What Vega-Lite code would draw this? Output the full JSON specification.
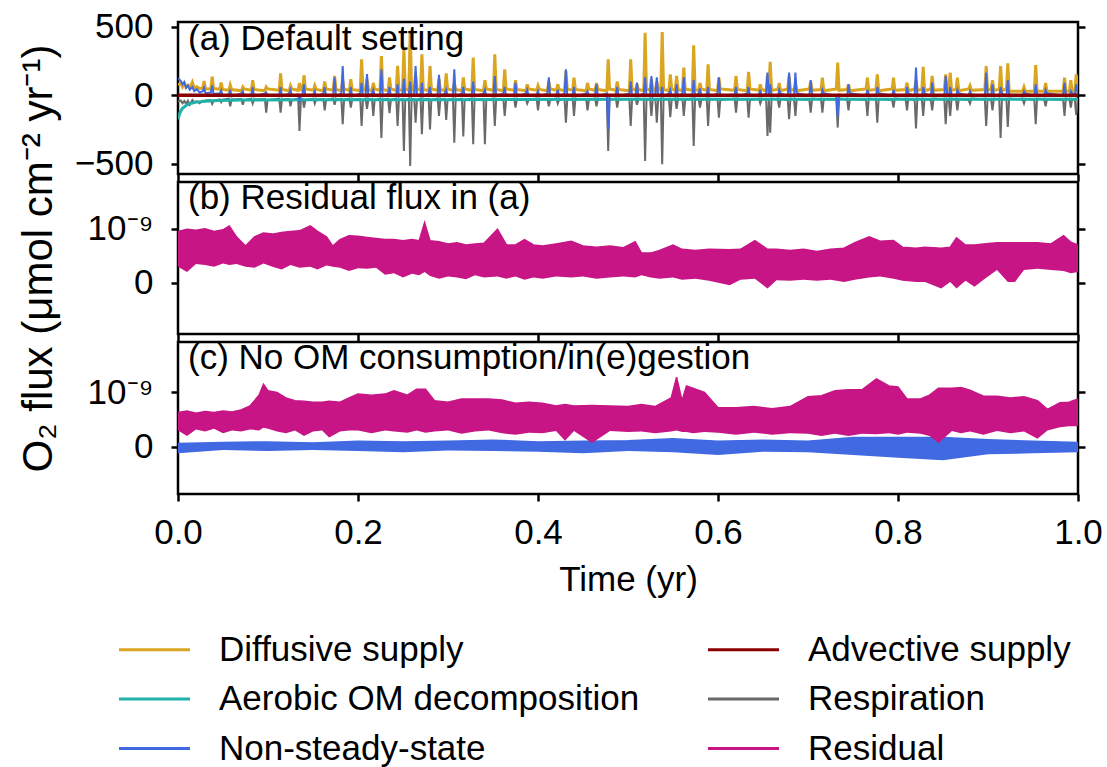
{
"$schema": "https://vega.github.io/schema/vega-lite/v6.json",
"padding": {"left": 15, "top": 8, "right": 0, "bottom": 0},
"background": "white",
"spacing": 8,
"bounds": "flush",
"datasets": {
"A": [
{"t":0,"d":75,"r":-45,"n":125},{"t":0.003,"d":88,"r":-38,"n":105},{"t":0.005,"d":62,"r":-58,"n":80},{"t":0.007,"d":90,"r":-42,"n":95},{"t":0.009,"d":58,"r":-62,"n":55},{"t":0.011,"d":72,"r":-40,"n":70},{"t":0.013,"d":55,"r":-70,"n":40},{"t":0.016,"d":96,"r":-35,"n":60},{"t":0.018,"d":52,"r":-50,"n":30},{"t":0.021,"d":62,"r":-45,"n":45},{"t":0.024,"d":50,"r":-58,"n":20},{"t":0.0275,"d":52,"r":-40,"n":30},{"t":0.029,"d":104,"r":-45,"n":55},{"t":0.0305,"d":48,"r":-38,"n":15},{"t":0.0365,"d":46,"r":-35,"n":20},{"t":0.038,"d":136,"r":-62,"n":72},{"t":0.0395,"d":50,"r":-40,"n":10},{"t":0.0465,"d":44,"r":-30,"n":15},{"t":0.048,"d":92,"r":-50,"n":35},{"t":0.0495,"d":42,"r":-32,"n":-5},
{"t":0.0565,"d":36,"r":-24,"n":6},{"t":0.058,"d":75,"r":-80,"n":40},{"t":0.0595,"d":42,"r":-31,"n":-8},
{"t":0.0705,"d":33,"r":-27,"n":14},{"t":0.072,"d":60,"r":-70,"n":30},{"t":0.0735,"d":46,"r":-35,"n":-4},
{"t":0.0815,"d":36,"r":-24,"n":6},{"t":0.083,"d":110,"r":-60,"n":60},{"t":0.0845,"d":42,"r":-31,"n":-8},
{"t":0.0965,"d":33,"r":-27,"n":14},{"t":0.098,"d":60,"r":-127,"n":20},{"t":0.0995,"d":46,"r":-35,"n":-4},
{"t":0.1125,"d":36,"r":-24,"n":6},{"t":0.114,"d":160,"r":-127,"n":60},{"t":0.1155,"d":42,"r":-31,"n":-8},
{"t":0.1235,"d":33,"r":-27,"n":14},{"t":0.125,"d":70,"r":-80,"n":40},{"t":0.1265,"d":46,"r":-35,"n":-4},
{"t":0.1335,"d":36,"r":-24,"n":6},{"t":0.135,"d":90,"r":-260,"n":-40},{"t":0.1365,"d":42,"r":-31,"n":-8},
{"t":0.1385,"d":33,"r":-27,"n":14},{"t":0.14,"d":146,"r":-90,"n":80},{"t":0.1415,"d":46,"r":-35,"n":-4},
{"t":0.1505,"d":36,"r":-24,"n":6},{"t":0.152,"d":70,"r":-60,"n":30},{"t":0.1535,"d":42,"r":-31,"n":-8},
{"t":0.1615,"d":33,"r":-27,"n":14},{"t":0.163,"d":100,"r":-110,"n":60},{"t":0.1645,"d":46,"r":-35,"n":-4},
{"t":0.1725,"d":36,"r":-24,"n":6},{"t":0.174,"d":141,"r":-70,"n":131},{"t":0.1755,"d":42,"r":-31,"n":-8},
{"t":0.1815,"d":33,"r":-27,"n":14},{"t":0.183,"d":110,"r":-212,"n":214},{"t":0.1845,"d":46,"r":-35,"n":-4},
{"t":0.1905,"d":36,"r":-24,"n":6},{"t":0.192,"d":117,"r":-90,"n":60},{"t":0.1935,"d":42,"r":-31,"n":-8},
{"t":0.2025,"d":33,"r":-27,"n":14},{"t":0.204,"d":262,"r":-224,"n":90},{"t":0.2055,"d":46,"r":-35,"n":-4},
{"t":0.2085,"d":36,"r":-24,"n":6},{"t":0.21,"d":120,"r":-100,"n":155},{"t":0.2115,"d":42,"r":-31,"n":-8},
{"t":0.2155,"d":33,"r":-27,"n":14},{"t":0.217,"d":90,"r":-150,"n":40},{"t":0.2185,"d":46,"r":-35,"n":-4},
{"t":0.2245,"d":36,"r":-24,"n":6},{"t":0.226,"d":287,"r":-311,"n":190},{"t":0.2275,"d":42,"r":-31,"n":-8},
{"t":0.2335,"d":33,"r":-27,"n":14},{"t":0.235,"d":130,"r":-130,"n":60},{"t":0.2365,"d":46,"r":-35,"n":-4},
{"t":0.2425,"d":36,"r":-24,"n":6},{"t":0.244,"d":214,"r":-224,"n":80},{"t":0.2455,"d":42,"r":-31,"n":-8},
{"t":0.2495,"d":33,"r":-27,"n":14},{"t":0.251,"d":336,"r":-406,"n":120},{"t":0.2525,"d":46,"r":-35,"n":-4},
{"t":0.2565,"d":36,"r":-24,"n":6},{"t":0.258,"d":470,"r":-516,"n":100},{"t":0.2595,"d":42,"r":-31,"n":-8},
{"t":0.2625,"d":33,"r":-27,"n":14},{"t":0.264,"d":150,"r":-200,"n":214},{"t":0.2655,"d":46,"r":-35,"n":-4},
{"t":0.2695,"d":36,"r":-24,"n":6},{"t":0.271,"d":299,"r":-285,"n":90},{"t":0.2725,"d":42,"r":-31,"n":-8},
{"t":0.2785,"d":33,"r":-27,"n":14},{"t":0.28,"d":214,"r":-250,"n":60},{"t":0.2815,"d":46,"r":-35,"n":-4},
{"t":0.2885,"d":36,"r":-24,"n":6},{"t":0.29,"d":120,"r":-150,"n":150},{"t":0.2915,"d":42,"r":-31,"n":-8},
{"t":0.2965,"d":33,"r":-27,"n":14},{"t":0.298,"d":160,"r":-180,"n":40},{"t":0.2995,"d":46,"r":-35,"n":-4},
{"t":0.3055,"d":36,"r":-24,"n":6},{"t":0.307,"d":90,"r":-346,"n":190},{"t":0.3085,"d":42,"r":-31,"n":-8},
{"t":0.3155,"d":33,"r":-27,"n":14},{"t":0.317,"d":130,"r":-300,"n":60},{"t":0.3185,"d":46,"r":-35,"n":-4},
{"t":0.3265,"d":36,"r":-24,"n":6},{"t":0.328,"d":275,"r":-358,"n":100},{"t":0.3295,"d":42,"r":-31,"n":-8},
{"t":0.3395,"d":33,"r":-27,"n":14},{"t":0.341,"d":110,"r":-358,"n":40},{"t":0.3425,"d":46,"r":-35,"n":-4},
{"t":0.3505,"d":36,"r":-24,"n":6},{"t":0.352,"d":299,"r":-224,"n":141},{"t":0.3535,"d":42,"r":-31,"n":-8},
{"t":0.3615,"d":33,"r":-27,"n":14},{"t":0.363,"d":190,"r":-150,"n":60},{"t":0.3645,"d":46,"r":-35,"n":-4},
{"t":0.3735,"d":36,"r":-24,"n":6},{"t":0.375,"d":110,"r":-90,"n":92},{"t":0.3765,"d":42,"r":-31,"n":-8},
{"t":0.3865,"d":33,"r":-27,"n":14},{"t":0.388,"d":80,"r":-60,"n":40},{"t":0.3895,"d":46,"r":-35,"n":-4},
{"t":0.3985,"d":36,"r":-24,"n":6},{"t":0.4,"d":70,"r":-110,"n":30},{"t":0.4015,"d":42,"r":-31,"n":-8},
{"t":0.4105,"d":33,"r":-27,"n":14},{"t":0.412,"d":100,"r":-80,"n":131},{"t":0.4135,"d":46,"r":-35,"n":-4},
{"t":0.4205,"d":36,"r":-24,"n":6},{"t":0.422,"d":80,"r":-60,"n":40},{"t":0.4235,"d":42,"r":-31,"n":-8},
{"t":0.4295,"d":33,"r":-27,"n":14},{"t":0.431,"d":177,"r":-200,"n":190},{"t":0.4325,"d":46,"r":-35,"n":-4},
{"t":0.4385,"d":36,"r":-24,"n":6},{"t":0.44,"d":129,"r":-150,"n":60},{"t":0.4415,"d":42,"r":-31,"n":-8},
{"t":0.4535,"d":33,"r":-27,"n":14},{"t":0.455,"d":90,"r":-110,"n":30},{"t":0.4565,"d":46,"r":-35,"n":-4},
{"t":0.4635,"d":36,"r":-24,"n":6},{"t":0.465,"d":90,"r":-80,"n":80},{"t":0.4665,"d":42,"r":-31,"n":-8},
{"t":0.4765,"d":33,"r":-27,"n":14},{"t":0.478,"d":263,"r":-406,"n":-248},{"t":0.4795,"d":46,"r":-35,"n":-4},
{"t":0.4865,"d":36,"r":-24,"n":6},{"t":0.488,"d":100,"r":-90,"n":60},{"t":0.4895,"d":42,"r":-31,"n":-8},
{"t":0.5015,"d":33,"r":-27,"n":14},{"t":0.503,"d":263,"r":-224,"n":100},{"t":0.5045,"d":46,"r":-35,"n":-4},
{"t":0.5085,"d":36,"r":-24,"n":6},{"t":0.51,"d":80,"r":-70,"n":92},{"t":0.5115,"d":42,"r":-31,"n":-8},
{"t":0.5175,"d":33,"r":-27,"n":14},{"t":0.519,"d":457,"r":-479,"n":131},{"t":0.5205,"d":46,"r":-35,"n":-4},
{"t":0.5245,"d":36,"r":-24,"n":6},{"t":0.526,"d":120,"r":-150,"n":141},{"t":0.5275,"d":42,"r":-31,"n":-8},
{"t":0.5305,"d":33,"r":-27,"n":14},{"t":0.532,"d":100,"r":-200,"n":131},{"t":0.5335,"d":46,"r":-35,"n":-4},
{"t":0.5365,"d":36,"r":-24,"n":6},{"t":0.538,"d":462,"r":-504,"n":60},{"t":0.5395,"d":42,"r":-31,"n":-8},
{"t":0.5455,"d":33,"r":-27,"n":14},{"t":0.547,"d":153,"r":-160,"n":40},{"t":0.5485,"d":46,"r":-35,"n":-4},
{"t":0.5525,"d":36,"r":-24,"n":6},{"t":0.554,"d":141,"r":-100,"n":80},{"t":0.5555,"d":42,"r":-31,"n":-8},
{"t":0.5605,"d":33,"r":-27,"n":14},{"t":0.562,"d":202,"r":-150,"n":131},{"t":0.5635,"d":46,"r":-35,"n":-4},
{"t":0.5715,"d":36,"r":-24,"n":6},{"t":0.573,"d":365,"r":-370,"n":110},{"t":0.5745,"d":42,"r":-31,"n":-8},
{"t":0.5785,"d":33,"r":-27,"n":14},{"t":0.58,"d":90,"r":-90,"n":50},{"t":0.5815,"d":46,"r":-35,"n":-4},
{"t":0.5875,"d":36,"r":-24,"n":6},{"t":0.589,"d":226,"r":-224,"n":60},{"t":0.5905,"d":42,"r":-31,"n":-8},
{"t":0.5995,"d":33,"r":-27,"n":14},{"t":0.601,"d":129,"r":-163,"n":131},{"t":0.6025,"d":46,"r":-35,"n":-4},
{"t":0.6185,"d":36,"r":-24,"n":6},{"t":0.62,"d":141,"r":-127,"n":60},{"t":0.6215,"d":42,"r":-31,"n":-8},
{"t":0.6325,"d":33,"r":-27,"n":14},{"t":0.634,"d":170,"r":-163,"n":60},{"t":0.6355,"d":46,"r":-35,"n":-4},
{"t":0.6455,"d":36,"r":-24,"n":6},{"t":0.647,"d":80,"r":-60,"n":40},{"t":0.6485,"d":42,"r":-31,"n":-8},
{"t":0.6535,"d":33,"r":-27,"n":14},{"t":0.655,"d":153,"r":-297,"n":165},{"t":0.6565,"d":46,"r":-35,"n":-4},
{"t":0.658,"d":245,"r":-273,"n":80},{"t":0.6595,"d":36,"r":-24,"n":6},
{"t":0.6665,"d":42,"r":-31,"n":-8},{"t":0.668,"d":90,"r":-90,"n":40},{"t":0.6695,"d":33,"r":-27,"n":14},
{"t":0.6775,"d":46,"r":-35,"n":-4},{"t":0.679,"d":141,"r":-175,"n":165},{"t":0.6805,"d":36,"r":-24,"n":6},
{"t":0.6845,"d":42,"r":-31,"n":-8},{"t":0.686,"d":80,"r":-150,"n":165},{"t":0.6875,"d":33,"r":-27,"n":14},
{"t":0.7015,"d":46,"r":-35,"n":-4},{"t":0.703,"d":100,"r":-127,"n":110},{"t":0.7045,"d":36,"r":-24,"n":6},
{"t":0.7145,"d":42,"r":-31,"n":-8},{"t":0.716,"d":129,"r":-127,"n":40},{"t":0.7175,"d":33,"r":-27,"n":14},
{"t":0.7315,"d":46,"r":-35,"n":-4},{"t":0.733,"d":238,"r":-236,"n":-151},{"t":0.7345,"d":36,"r":-24,"n":6},
{"t":0.7435,"d":42,"r":-31,"n":-8},{"t":0.745,"d":80,"r":-110,"n":80},{"t":0.7465,"d":33,"r":-27,"n":14},
{"t":0.7645,"d":46,"r":-35,"n":-4},{"t":0.766,"d":129,"r":-150,"n":40},{"t":0.7675,"d":36,"r":-24,"n":6},
{"t":0.7755,"d":42,"r":-31,"n":-8},{"t":0.777,"d":153,"r":-200,"n":60},{"t":0.7785,"d":33,"r":-27,"n":14},
{"t":0.7935,"d":46,"r":-35,"n":-4},{"t":0.795,"d":129,"r":-90,"n":40},{"t":0.7965,"d":36,"r":-24,"n":6},
{"t":0.8085,"d":42,"r":-31,"n":-8},{"t":0.81,"d":92,"r":-110,"n":60},{"t":0.8115,"d":33,"r":-27,"n":14},
{"t":0.8185,"d":46,"r":-35,"n":-4},{"t":0.82,"d":110,"r":-243,"n":202},{"t":0.8215,"d":36,"r":-24,"n":6},
{"t":0.8265,"d":42,"r":-31,"n":-8},{"t":0.828,"d":207,"r":-150,"n":60},{"t":0.8295,"d":33,"r":-27,"n":14},
{"t":0.8365,"d":46,"r":-35,"n":-4},{"t":0.838,"d":141,"r":-110,"n":92},{"t":0.8395,"d":36,"r":-24,"n":6},
{"t":0.8515,"d":42,"r":-31,"n":-8},{"t":0.853,"d":153,"r":-212,"n":141},{"t":0.8545,"d":33,"r":-27,"n":14},
{"t":0.8565,"d":46,"r":-35,"n":-4},{"t":0.858,"d":165,"r":-150,"n":60},{"t":0.8595,"d":36,"r":-24,"n":6},
{"t":0.8645,"d":42,"r":-31,"n":-8},{"t":0.866,"d":129,"r":-110,"n":40},{"t":0.8675,"d":33,"r":-27,"n":14},
{"t":0.8785,"d":46,"r":-35,"n":-4},{"t":0.88,"d":70,"r":-60,"n":30},{"t":0.8815,"d":36,"r":-24,"n":6},
{"t":0.8965,"d":42,"r":-31,"n":-8},{"t":0.898,"d":214,"r":-224,"n":165},{"t":0.8995,"d":33,"r":-27,"n":14},
{"t":0.9035,"d":46,"r":-35,"n":-4},{"t":0.905,"d":110,"r":-110,"n":80},{"t":0.9065,"d":36,"r":-24,"n":6},
{"t":0.9125,"d":42,"r":-31,"n":-8},{"t":0.914,"d":214,"r":-311,"n":60},{"t":0.9155,"d":33,"r":-27,"n":14},
{"t":0.9205,"d":46,"r":-35,"n":-4},{"t":0.922,"d":233,"r":-231,"n":110},{"t":0.9235,"d":30,"r":-24,"n":6},
{"t":0.9385,"d":30,"r":-31,"n":-8},{"t":0.94,"d":60,"r":-60,"n":30},{"t":0.9415,"d":30,"r":-27,"n":14},
{"t":0.9515,"d":30,"r":-35,"n":-4},{"t":0.953,"d":221,"r":-212,"n":80},{"t":0.9545,"d":30,"r":-24,"n":6},
{"t":0.9625,"d":30,"r":-31,"n":-8},{"t":0.964,"d":90,"r":-80,"n":40},{"t":0.9655,"d":30,"r":-27,"n":14},
{"t":0.9835,"d":30,"r":-35,"n":-4},{"t":0.985,"d":129,"r":-150,"n":92},{"t":0.9865,"d":30,"r":-24,"n":6},
{"t":0.9905,"d":30,"r":-31,"n":-8},{"t":0.992,"d":110,"r":-90,"n":30},{"t":0.9935,"d":30,"r":-27,"n":14},
{"t":0.9965,"d":30,"r":-35,"n":-4},{"t":0.998,"d":153,"r":-143,"n":80},{"t":1,"d":40,"r":-30,"n":10}
],
"O": [
{"t":0,"o":-175,"v":0},{"t":0.002,"o":-130,"v":0},{"t":0.005,"o":-95,"v":0},{"t":0.01,"o":-70,"v":0},{"t":0.015,"o":-58,"v":0},{"t":0.02,"o":-50,"v":0},{"t":0.03,"o":-43,"v":0},{"t":0.045,"o":-38,"v":0},{"t":0.07,"o":-35,"v":0},{"t":0.15,"o":-33,"v":0},{"t":0.3,"o":-32,"v":0},{"t":0.5,"o":-30,"v":0},{"t":0.7,"o":-30,"v":0},{"t":1,"o":-29,"v":0}
],
"B": [
{"t":0,"h":0.95e-9,"l":0.30e-9},{"t":0.01,"h":0.99e-9,"l":0.20e-9},{"t":0.02,"h":0.97e-9,"l":0.35e-9},{"t":0.03,"h":1.0e-9,"l":0.33e-9},{"t":0.04,"h":0.95e-9,"l":0.30e-9},{"t":0.05,"h":0.98e-9,"l":0.36e-9},{"t":0.057,"h":1.05e-9,"l":0.33e-9},{"t":0.065,"h":0.85e-9,"l":0.35e-9},{"t":0.075,"h":0.68e-9,"l":0.30e-9},{"t":0.085,"h":0.85e-9,"l":0.28e-9},{"t":0.095,"h":0.92e-9,"l":0.36e-9},{"t":0.105,"h":0.90e-9,"l":0.30e-9},{"t":0.115,"h":0.93e-9,"l":0.25e-9},{"t":0.125,"h":0.95e-9,"l":0.33e-9},{"t":0.135,"h":0.96e-9,"l":0.28e-9},{"t":0.147,"h":1.05e-9,"l":0.30e-9},{"t":0.155,"h":0.95e-9,"l":0.25e-9},{"t":0.165,"h":0.85e-9,"l":0.32e-9},{"t":0.172,"h":0.68e-9,"l":0.30e-9},{"t":0.18,"h":0.80e-9,"l":0.28e-9},{"t":0.19,"h":0.87e-9,"l":0.22e-9},{"t":0.2,"h":0.86e-9,"l":0.27e-9},{"t":0.21,"h":0.84e-9,"l":0.26e-9},{"t":0.22,"h":0.82e-9,"l":0.28e-9},{"t":0.23,"h":0.80e-9,"l":0.15e-9},{"t":0.24,"h":0.80e-9,"l":0.18e-9},{"t":0.25,"h":0.78e-9,"l":0.10e-9},{"t":0.26,"h":0.80e-9,"l":0.17e-9},{"t":0.268,"h":0.78e-9,"l":0.14e-9},{"t":0.274,"h":1.11e-9,"l":0.20e-9},{"t":0.28,"h":0.78e-9,"l":0.13e-9},{"t":0.29,"h":0.76e-9,"l":0.08e-9},{"t":0.3,"h":0.72e-9,"l":0.12e-9},{"t":0.31,"h":0.74e-9,"l":0.10e-9},{"t":0.32,"h":0.70e-9,"l":0.07e-9},{"t":0.33,"h":0.72e-9,"l":0.14e-9},{"t":0.34,"h":0.73e-9,"l":0.10e-9},{"t":0.355,"h":0.99e-9,"l":0.12e-9},{"t":0.365,"h":0.70e-9,"l":0.08e-9},{"t":0.375,"h":0.70e-9,"l":0.12e-9},{"t":0.385,"h":0.80e-9,"l":0.06e-9},{"t":0.395,"h":0.70e-9,"l":0.10e-9},{"t":0.405,"h":0.68e-9,"l":0.08e-9},{"t":0.42,"h":0.72e-9,"l":0.12e-9},{"t":0.437,"h":0.77e-9,"l":0.10e-9},{"t":0.45,"h":0.68e-9,"l":0.12e-9},{"t":0.465,"h":0.66e-9,"l":0.08e-9},{"t":0.48,"h":0.68e-9,"l":0.10e-9},{"t":0.495,"h":0.65e-9,"l":0.12e-9},{"t":0.508,"h":0.76e-9,"l":0.10e-9},{"t":0.515,"h":0.55e-9,"l":0.14e-9},{"t":0.525,"h":0.55e-9,"l":0.10e-9},{"t":0.535,"h":0.60e-9,"l":0.08e-9},{"t":0.55,"h":0.70e-9,"l":0.10e-9},{"t":0.56,"h":0.62e-9,"l":0.06e-9},{"t":0.575,"h":0.60e-9,"l":0.08e-9},{"t":0.59,"h":0.62e-9,"l":0.04e-9},{"t":0.613,"h":0.61e-9,"l":-0.04e-9},{"t":0.625,"h":0.62e-9,"l":0.06e-9},{"t":0.641,"h":0.78e-9,"l":0.08e-9},{"t":0.655,"h":0.62e-9,"l":-0.10e-9},{"t":0.665,"h":0.62e-9,"l":0.05e-9},{"t":0.68,"h":0.60e-9,"l":0.04e-9},{"t":0.695,"h":0.62e-9,"l":0.06e-9},{"t":0.71,"h":0.58e-9,"l":0.04e-9},{"t":0.725,"h":0.62e-9,"l":0.06e-9},{"t":0.74,"h":0.64e-9,"l":0.02e-9},{"t":0.752,"h":0.74e-9,"l":0.06e-9},{"t":0.768,"h":0.85e-9,"l":0.10e-9},{"t":0.78,"h":0.77e-9,"l":0.12e-9},{"t":0.795,"h":0.78e-9,"l":0.08e-9},{"t":0.805,"h":0.66e-9,"l":0.04e-9},{"t":0.82,"h":0.64e-9,"l":0.02e-9},{"t":0.83,"h":0.66e-9,"l":0.02e-9},{"t":0.848,"h":0.64e-9,"l":-0.10e-9},{"t":0.858,"h":0.66e-9,"l":0.02e-9},{"t":0.865,"h":0.83e-9,"l":-0.10e-9},{"t":0.875,"h":0.70e-9,"l":0.04e-9},{"t":0.885,"h":0.70e-9,"l":-0.07e-9},{"t":0.895,"h":0.72e-9,"l":0.06e-9},{"t":0.91,"h":0.74e-9,"l":0.24e-9},{"t":0.922,"h":0.74e-9,"l":0.02e-9},{"t":0.93,"h":0.74e-9,"l":0.02e-9},{"t":0.94,"h":0.74e-9,"l":0.24e-9},{"t":0.955,"h":0.74e-9,"l":0.26e-9},{"t":0.97,"h":0.72e-9,"l":0.24e-9},{"t":0.984,"h":0.87e-9,"l":0.22e-9},{"t":0.992,"h":0.75e-9,"l":0.18e-9},{"t":1,"h":0.70e-9,"l":0.20e-9}
],
"C": [
{"t":0,"h":0.63e-9,"l":0.30e-9},{"t":0.01,"h":0.66e-9,"l":0.20e-9},{"t":0.02,"h":0.62e-9,"l":0.32e-9},{"t":0.03,"h":0.65e-9,"l":0.28e-9},{"t":0.04,"h":0.63e-9,"l":0.33e-9},{"t":0.05,"h":0.66e-9,"l":0.25e-9},{"t":0.06,"h":0.64e-9,"l":0.30e-9},{"t":0.07,"h":0.68e-9,"l":0.28e-9},{"t":0.08,"h":0.75e-9,"l":0.32e-9},{"t":0.09,"h":0.95e-9,"l":0.30e-9},{"t":0.095,"h":1.15e-9,"l":0.35e-9},{"t":0.1,"h":1.03e-9,"l":0.33e-9},{"t":0.11,"h":1.0e-9,"l":0.28e-9},{"t":0.12,"h":0.90e-9,"l":0.25e-9},{"t":0.13,"h":0.85e-9,"l":0.30e-9},{"t":0.14,"h":0.84e-9,"l":0.20e-9},{"t":0.15,"h":0.82e-9,"l":0.28e-9},{"t":0.16,"h":0.82e-9,"l":0.30e-9},{"t":0.168,"h":0.84e-9,"l":0.17e-9},{"t":0.18,"h":0.82e-9,"l":0.28e-9},{"t":0.19,"h":0.90e-9,"l":0.30e-9},{"t":0.2,"h":0.97e-9,"l":0.30e-9},{"t":0.215,"h":0.95e-9,"l":0.25e-9},{"t":0.23,"h":0.97e-9,"l":0.30e-9},{"t":0.24,"h":1.03e-9,"l":0.28e-9},{"t":0.255,"h":0.95e-9,"l":0.26e-9},{"t":0.265,"h":1.06e-9,"l":0.30e-9},{"t":0.275,"h":1.06e-9,"l":0.26e-9},{"t":0.285,"h":0.85e-9,"l":0.28e-9},{"t":0.3,"h":0.82e-9,"l":0.30e-9},{"t":0.315,"h":0.88e-9,"l":0.24e-9},{"t":0.33,"h":0.88e-9,"l":0.28e-9},{"t":0.345,"h":0.88e-9,"l":0.30e-9},{"t":0.36,"h":0.86e-9,"l":0.25e-9},{"t":0.375,"h":0.80e-9,"l":0.22e-9},{"t":0.39,"h":0.82e-9,"l":0.26e-9},{"t":0.405,"h":0.80e-9,"l":0.25e-9},{"t":0.42,"h":0.75e-9,"l":0.29e-9},{"t":0.43,"h":0.78e-9,"l":0.11e-9},{"t":0.44,"h":0.75e-9,"l":0.29e-9},{"t":0.46,"h":0.76e-9,"l":0.07e-9},{"t":0.48,"h":0.75e-9,"l":0.29e-9},{"t":0.5,"h":0.74e-9,"l":0.27e-9},{"t":0.515,"h":0.78e-9,"l":0.28e-9},{"t":0.53,"h":0.74e-9,"l":0.25e-9},{"t":0.548,"h":0.90e-9,"l":0.28e-9},{"t":0.554,"h":1.28e-9,"l":0.30e-9},{"t":0.56,"h":0.85e-9,"l":0.27e-9},{"t":0.565,"h":1.12e-9,"l":0.27e-9},{"t":0.572,"h":1.08e-9,"l":0.25e-9},{"t":0.585,"h":1.0e-9,"l":0.27e-9},{"t":0.6,"h":0.72e-9,"l":0.26e-9},{"t":0.62,"h":0.72e-9,"l":0.22e-9},{"t":0.64,"h":0.74e-9,"l":0.26e-9},{"t":0.66,"h":0.70e-9,"l":0.22e-9},{"t":0.68,"h":0.74e-9,"l":0.25e-9},{"t":0.7,"h":0.92e-9,"l":0.24e-9},{"t":0.715,"h":0.94e-9,"l":0.20e-9},{"t":0.73,"h":1.03e-9,"l":0.24e-9},{"t":0.745,"h":1.05e-9,"l":0.20e-9},{"t":0.76,"h":1.05e-9,"l":0.24e-9},{"t":0.776,"h":1.25e-9,"l":0.23e-9},{"t":0.79,"h":1.12e-9,"l":0.25e-9},{"t":0.8,"h":1.10e-9,"l":0.22e-9},{"t":0.81,"h":0.88e-9,"l":0.26e-9},{"t":0.825,"h":0.88e-9,"l":0.24e-9},{"t":0.835,"h":0.95e-9,"l":0.20e-9},{"t":0.845,"h":1.08e-9,"l":0.07e-9},{"t":0.86,"h":1.08e-9,"l":0.29e-9},{"t":0.87,"h":1.09e-9,"l":0.25e-9},{"t":0.88,"h":1.04e-9,"l":0.28e-9},{"t":0.895,"h":0.93e-9,"l":0.22e-9},{"t":0.91,"h":0.93e-9,"l":0.29e-9},{"t":0.925,"h":0.90e-9,"l":0.25e-9},{"t":0.94,"h":0.92e-9,"l":0.28e-9},{"t":0.955,"h":0.85e-9,"l":0.15e-9},{"t":0.966,"h":0.69e-9,"l":0.30e-9},{"t":0.98,"h":0.81e-9,"l":0.36e-9},{"t":0.99,"h":0.82e-9,"l":0.38e-9},{"t":1,"h":0.88e-9,"l":0.38e-9}
],
"N": [
{"t":0,"h":0.06e-9,"l":-0.12e-9},{"t":0.05,"h":0.08e-9,"l":-0.06e-9},{"t":0.1,"h":0.09e-9,"l":-0.08e-9},{"t":0.15,"h":0.07e-9,"l":-0.06e-9},{"t":0.2,"h":0.10e-9,"l":-0.08e-9},{"t":0.25,"h":0.09e-9,"l":-0.10e-9},{"t":0.3,"h":0.10e-9,"l":-0.07e-9},{"t":0.35,"h":0.12e-9,"l":-0.08e-9},{"t":0.4,"h":0.09e-9,"l":-0.09e-9},{"t":0.45,"h":0.10e-9,"l":-0.12e-9},{"t":0.5,"h":0.11e-9,"l":-0.08e-9},{"t":0.55,"h":0.15e-9,"l":-0.10e-9},{"t":0.6,"h":0.10e-9,"l":-0.15e-9},{"t":0.65,"h":0.12e-9,"l":-0.09e-9},{"t":0.7,"h":0.10e-9,"l":-0.10e-9},{"t":0.75,"h":0.17e-9,"l":-0.15e-9},{"t":0.8,"h":0.17e-9,"l":-0.20e-9},{"t":0.85,"h":0.17e-9,"l":-0.25e-9},{"t":0.9,"h":0.13e-9,"l":-0.14e-9},{"t":0.95,"h":0.10e-9,"l":-0.12e-9},{"t":1,"h":0.08e-9,"l":-0.10e-9}
]
},
"vconcat": [
{
"width": 900, "height": 152,
"title": {"text": "(a) Default setting", "offset": -47},
"encoding": {"x": {"field": "t", "type": "quantitative", "scale": {"domain": [0, 1], "nice": false, "zero": false}, "axis": {"values": [0, 0.2, 0.4, 0.6, 0.8, 1], "labels": false, "title": null}}},
"layer": [
{"data": {"name": "A"}, "mark": {"type": "line", "strokeWidth": 3, "clip": true},
 "encoding": {"y": {"field": "d", "type": "quantitative", "scale": {"domain": [-575, 535], "nice": false, "zero": false},
   "axis": {"values": [-500, 0, 500], "title": "O₂ flux (μmol cm⁻² yr⁻¹)", "titleFontSize": 42, "titleX": -127, "titleY": 236, "titleAngle": 270, "titleAlign": "center", "titleBaseline": "alphabetic"}},
  "color": {"datum": "Diffusive supply", "type": "nominal", "scale": {"domain": ["Diffusive supply","Aerobic OM decomposition","Non-steady-state","Advective supply","Respiration","Residual"], "range": ["#DAA520","#20B2AA","#4169E1","#8B0000","#696969","#C71585"]}, "legend": {"title": null, "orient": "none", "legendX": -59, "legendY": 610}}}},
{"data": {"name": "A"}, "mark": {"type": "line", "strokeWidth": 2, "clip": true},
 "encoding": {"y": {"field": "r", "type": "quantitative", "axis": null},
  "color": {"datum": "Respiration", "type": "nominal", "scale": {"domain": ["Diffusive supply","Aerobic OM decomposition","Non-steady-state","Advective supply","Respiration","Residual"], "range": ["#DAA520","#20B2AA","#4169E1","#8B0000","#696969","#C71585"]}, "legend": {"title": null, "orient": "none", "legendX": -59, "legendY": 610}}}},
{"data": {"name": "O"}, "mark": {"type": "line", "strokeWidth": 3, "clip": true},
 "encoding": {"y": {"field": "o", "type": "quantitative", "axis": null},
  "color": {"datum": "Aerobic OM decomposition", "type": "nominal", "scale": {"domain": ["Diffusive supply","Aerobic OM decomposition","Non-steady-state","Advective supply","Respiration","Residual"], "range": ["#DAA520","#20B2AA","#4169E1","#8B0000","#696969","#C71585"]}, "legend": {"title": null, "orient": "none", "legendX": -59, "legendY": 610}}}},
{"data": {"name": "A"}, "mark": {"type": "line", "strokeWidth": 2, "clip": true},
 "encoding": {"y": {"field": "n", "type": "quantitative", "axis": null},
  "color": {"datum": "Non-steady-state", "type": "nominal", "scale": {"domain": ["Diffusive supply","Aerobic OM decomposition","Non-steady-state","Advective supply","Respiration","Residual"], "range": ["#DAA520","#20B2AA","#4169E1","#8B0000","#696969","#C71585"]}, "legend": {"title": null, "orient": "none", "legendX": -59, "legendY": 610}}}},
{"data": {"name": "O"}, "mark": {"type": "line", "strokeWidth": 3.5, "clip": true},
 "encoding": {"y": {"field": "v", "type": "quantitative", "axis": {"orient": "right", "values": [-500, 0, 500], "labels": false, "title": null}},
  "color": {"datum": "Advective supply", "type": "nominal", "scale": {"domain": ["Diffusive supply","Aerobic OM decomposition","Non-steady-state","Advective supply","Respiration","Residual"], "range": ["#DAA520","#20B2AA","#4169E1","#8B0000","#696969","#C71585"]}, "legend": {"title": null, "orient": "none", "legendX": -59, "legendY": 610}}}}
],
"resolve": {"axis": {"y": "independent"}}
},
{
"width": 900, "height": 152,
"title": {"text": "(b) Residual flux in (a)", "offset": -34},
"encoding": {"x": {"field": "t", "type": "quantitative", "scale": {"domain": [0, 1], "nice": false, "zero": false}, "axis": {"values": [0, 0.2, 0.4, 0.6, 0.8, 1], "labels": false, "title": null}}},
"data": {"name": "B"},
"layer": [
{"mark": {"type": "area", "color": "#C71585", "opacity": 1, "clip": true},
 "encoding": {"y": {"field": "h", "type": "quantitative", "scale": {"domain": [-0.94e-9, 1.86e-9], "nice": false, "zero": false},
   "axis": {"values": [0, 1e-9], "labelExpr": "datum.value < 5e-10 ? '0' : '10⁻⁹'", "title": null}},
  "y2": {"field": "l"}}},
{"mark": {"type": "line", "strokeWidth": 1.5, "clip": true},
 "encoding": {"y": {"field": "h", "type": "quantitative", "axis": {"orient": "right", "values": [0, 1e-9], "labels": false, "title": null}},
  "color": {"datum": "Residual", "type": "nominal", "scale": {"domain": ["Diffusive supply","Aerobic OM decomposition","Non-steady-state","Advective supply","Respiration","Residual"], "range": ["#DAA520","#20B2AA","#4169E1","#8B0000","#696969","#C71585"]}, "legend": {"title": null, "orient": "none", "legendX": -59, "legendY": 610}}}}
],
"resolve": {"axis": {"y": "independent"}}
},
{
"width": 900, "height": 152,
"title": {"text": "(c) No OM consumption/in(e)gestion", "offset": -34},
"encoding": {"x": {"field": "t", "type": "quantitative", "scale": {"domain": [0, 1], "nice": false, "zero": false}, "axis": {"values": [0, 0.2, 0.4, 0.6, 0.8, 1], "format": ".1f", "labelPadding": 14, "title": "Time (yr)", "titlePadding": 12}}},
"layer": [
{"data": {"name": "N"}, "mark": {"type": "area", "color": "#4169E1", "opacity": 1, "clip": true},
 "encoding": {"y": {"field": "h", "type": "quantitative", "scale": {"domain": [-0.87e-9, 1.93e-9], "nice": false, "zero": false},
   "axis": {"values": [0, 1e-9], "labelExpr": "datum.value < 5e-10 ? '0' : '10⁻⁹'", "title": null}},
  "y2": {"field": "l"}}},
{"data": {"name": "N"}, "mark": {"type": "line", "strokeWidth": 1.5, "clip": true},
 "encoding": {"y": {"field": "h", "type": "quantitative", "axis": null},
  "color": {"datum": "Non-steady-state", "type": "nominal", "scale": {"domain": ["Diffusive supply","Aerobic OM decomposition","Non-steady-state","Advective supply","Respiration","Residual"], "range": ["#DAA520","#20B2AA","#4169E1","#8B0000","#696969","#C71585"]}, "legend": {"title": null, "orient": "none", "legendX": -59, "legendY": 610}}}},
{"data": {"name": "C"}, "mark": {"type": "area", "color": "#C71585", "opacity": 1, "clip": true},
 "encoding": {"y": {"field": "h", "type": "quantitative", "axis": null}, "y2": {"field": "l"}}},
{"data": {"name": "C"}, "mark": {"type": "line", "strokeWidth": 1.5, "clip": true},
 "encoding": {"y": {"field": "h", "type": "quantitative", "axis": {"orient": "right", "values": [0, 1e-9], "labels": false, "title": null}},
  "color": {"datum": "Residual", "type": "nominal", "scale": {"domain": ["Diffusive supply","Aerobic OM decomposition","Non-steady-state","Advective supply","Respiration","Residual"], "range": ["#DAA520","#20B2AA","#4169E1","#8B0000","#696969","#C71585"]}, "legend": {"title": null, "orient": "none", "legendX": -59, "legendY": 610}}}}
],
"resolve": {"axis": {"y": "independent"}}
}
],
"config": {
"font": "Liberation Sans",
"view": {"stroke": "black", "strokeWidth": 2.5},
"axis": {"domain": false, "grid": false, "tickColor": "black", "tickWidth": 2.5, "tickSize": 7, "labelFont": "Liberation Sans", "labelFontSize": 35, "labelColor": "black", "labelPadding": 18, "titleFont": "Liberation Sans", "titleFontSize": 35, "titleFontWeight": "normal", "titleColor": "black"},
"axisX": {"labelFlush": false},
"title": {"font": "Liberation Sans", "fontSize": 35, "fontWeight": "normal", "color": "black", "anchor": "start", "frame": "group", "baseline": "alphabetic", "dx": 10},
"legend": {"columns": 2, "symbolType": "M-3.55,0H3.55", "symbolSize": 400, "symbolStrokeWidth": 3, "symbolOffset": 18, "labelOffset": 47, "labelFont": "Liberation Sans", "labelFontSize": 35, "labelColor": "black", "labelLimit": 1000, "rowPadding": 13.5, "columnPadding": 62, "padding": 0, "offset": 0}
}
}
